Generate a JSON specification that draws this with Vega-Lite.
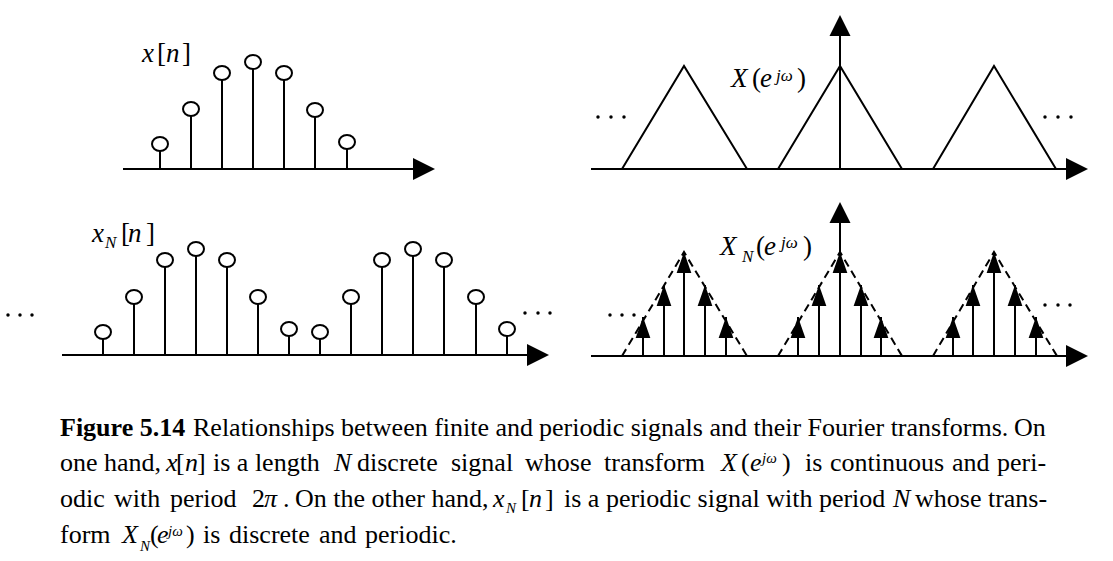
{
  "$schema": "https://vega.github.io/schema/vega-lite/v6.json",
  "width": 1113,
  "height": 561,
  "padding": 0,
  "autosize": {"type": "fit", "contains": "padding"},
  "background": "white",
  "config": {"view": {"stroke": null}},
  "datasets": {
    "axesH": [
      {"x": 123, "x2": 425, "y": 169},
      {"x": 591, "x2": 1075, "y": 169},
      {"x": 62, "x2": 537, "y": 355},
      {"x": 591, "x2": 1075, "y": 356}
    ],
    "axesV": [
      {"x": 840, "y": 169, "y2": 30},
      {"x": 840, "y": 356, "y2": 215}
    ],
    "arrowR": [
      {"x": 435, "y": 169},
      {"x": 1088, "y": 169},
      {"x": 549, "y": 355},
      {"x": 1088, "y": 356}
    ],
    "arrowU": [
      {"x": 840, "y": 15},
      {"x": 840, "y": 202}
    ],
    "stems": [
      {"x": 160, "y": 144, "y2": 169},
      {"x": 191, "y": 109, "y2": 169},
      {"x": 222, "y": 73, "y2": 169},
      {"x": 253, "y": 62, "y2": 169},
      {"x": 284, "y": 73, "y2": 169},
      {"x": 315, "y": 110, "y2": 169},
      {"x": 347, "y": 142, "y2": 169},
      {"x": 103, "y": 332, "y2": 355},
      {"x": 134, "y": 297, "y2": 355},
      {"x": 165, "y": 260, "y2": 355},
      {"x": 196, "y": 249, "y2": 355},
      {"x": 227, "y": 260, "y2": 355},
      {"x": 258, "y": 297, "y2": 355},
      {"x": 289, "y": 329, "y2": 355},
      {"x": 320, "y": 332, "y2": 355},
      {"x": 351, "y": 297, "y2": 355},
      {"x": 382, "y": 260, "y2": 355},
      {"x": 413, "y": 249, "y2": 355},
      {"x": 444, "y": 260, "y2": 355},
      {"x": 476, "y": 297, "y2": 355},
      {"x": 507, "y": 329, "y2": 355}
    ],
    "impulses": [
      {"x": 643, "y": 317, "y2": 356},
      {"x": 664, "y": 285, "y2": 356},
      {"x": 684, "y": 252, "y2": 356},
      {"x": 705, "y": 285, "y2": 356},
      {"x": 726, "y": 317, "y2": 356},
      {"x": 798, "y": 317, "y2": 356},
      {"x": 819, "y": 285, "y2": 356},
      {"x": 840, "y": 252, "y2": 356},
      {"x": 861, "y": 285, "y2": 356},
      {"x": 881, "y": 317, "y2": 356},
      {"x": 953, "y": 317, "y2": 356},
      {"x": 973, "y": 285, "y2": 356},
      {"x": 994, "y": 252, "y2": 356},
      {"x": 1015, "y": 285, "y2": 356},
      {"x": 1036, "y": 317, "y2": 356}
    ],
    "tri": [
      {"g": "a", "x": 622, "y": 169}, {"g": "a", "x": 684, "y": 66}, {"g": "a", "x": 747, "y": 169},
      {"g": "b", "x": 778, "y": 169}, {"g": "b", "x": 840, "y": 66}, {"g": "b", "x": 902, "y": 169},
      {"g": "c", "x": 933, "y": 169}, {"g": "c", "x": 994, "y": 66}, {"g": "c", "x": 1056, "y": 169}
    ],
    "dtri": [
      {"g": "a", "x": 622, "y": 356}, {"g": "a", "x": 684, "y": 252}, {"g": "a", "x": 747, "y": 356},
      {"g": "b", "x": 778, "y": 356}, {"g": "b", "x": 840, "y": 252}, {"g": "b", "x": 902, "y": 356},
      {"g": "c", "x": 933, "y": 356}, {"g": "c", "x": 994, "y": 252}, {"g": "c", "x": 1057, "y": 356}
    ],
    "dots": [
      {"x": 598, "y": 117}, {"x": 611, "y": 117}, {"x": 624, "y": 117},
      {"x": 1045, "y": 117}, {"x": 1058, "y": 117}, {"x": 1071, "y": 117},
      {"x": 8, "y": 315}, {"x": 20, "y": 315}, {"x": 32, "y": 315},
      {"x": 525, "y": 313}, {"x": 538, "y": 313}, {"x": 550, "y": 313},
      {"x": 610, "y": 315}, {"x": 622, "y": 315}, {"x": 634, "y": 315},
      {"x": 1045, "y": 305}, {"x": 1058, "y": 305}, {"x": 1070, "y": 305}
    ],
    "droman": [
      {"t": "[", "x": 157, "y": 62},
      {"t": "]", "x": 182, "y": 62},
      {"t": "(", "x": 752, "y": 87},
      {"t": ")", "x": 797, "y": 87},
      {"t": "[", "x": 121, "y": 242},
      {"t": "]", "x": 146, "y": 242},
      {"t": "(", "x": 756, "y": 255},
      {"t": ")", "x": 803, "y": 255}
    ],
    "ditalic": [
      {"t": "x", "x": 142, "y": 62},
      {"t": "n", "x": 166, "y": 62},
      {"t": "X", "x": 731, "y": 87},
      {"t": "e", "x": 760, "y": 87},
      {"t": "x", "x": 92, "y": 242},
      {"t": "n", "x": 128, "y": 242},
      {"t": "X", "x": 720, "y": 255},
      {"t": "e", "x": 764, "y": 255}
    ],
    "dsmall": [
      {"t": "jω", "x": 776, "y": 81},
      {"t": "N", "x": 105, "y": 248},
      {"t": "N", "x": 742, "y": 262},
      {"t": "jω", "x": 781, "y": 248}
    ],
    "roman": [
      {"t": "Relationships between finite and", "x": 193, "y": 436},
      {"t": "periodic signals and their Fourier transforms.", "x": 539, "y": 436},
      {"t": "On", "x": 1014, "y": 436},
      {"t": "one hand,", "x": 60, "y": 471},
      {"t": "[", "x": 176, "y": 471},
      {"t": "]", "x": 197, "y": 471},
      {"t": "is a length", "x": 213, "y": 471},
      {"t": "discrete", "x": 357, "y": 471},
      {"t": "signal", "x": 451, "y": 471},
      {"t": "whose", "x": 525, "y": 471},
      {"t": "transform", "x": 604, "y": 471},
      {"t": "(", "x": 741, "y": 471},
      {"t": ")", "x": 782, "y": 471},
      {"t": "is", "x": 805, "y": 471},
      {"t": "continuous", "x": 830, "y": 471},
      {"t": "and", "x": 952, "y": 471},
      {"t": "peri-", "x": 997, "y": 471},
      {"t": "odic", "x": 60, "y": 507},
      {"t": "with", "x": 114, "y": 507},
      {"t": "period", "x": 170, "y": 507},
      {"t": "2", "x": 252, "y": 507},
      {"t": ".", "x": 283, "y": 507},
      {"t": "On the other hand,", "x": 295, "y": 507},
      {"t": "[", "x": 521, "y": 507},
      {"t": "]", "x": 545, "y": 507},
      {"t": "is a periodic signal with period", "x": 564, "y": 507},
      {"t": "whose trans-", "x": 915, "y": 507},
      {"t": "form", "x": 60, "y": 543},
      {"t": "(", "x": 150, "y": 543},
      {"t": ")", "x": 186, "y": 543},
      {"t": "is", "x": 203, "y": 543},
      {"t": "discrete", "x": 229, "y": 543},
      {"t": "and", "x": 319, "y": 543},
      {"t": "periodic.", "x": 365, "y": 543}
    ],
    "italic": [
      {"t": "x", "x": 166, "y": 471},
      {"t": "n", "x": 185, "y": 471},
      {"t": "N", "x": 334, "y": 471},
      {"t": "X", "x": 721, "y": 471},
      {"t": "e", "x": 750, "y": 471},
      {"t": "π", "x": 264, "y": 507},
      {"t": "x", "x": 493, "y": 507},
      {"t": "n", "x": 529, "y": 507},
      {"t": "N", "x": 893, "y": 507},
      {"t": "X", "x": 122, "y": 543},
      {"t": "e", "x": 157, "y": 543}
    ],
    "small": [
      {"t": "jω", "x": 762, "y": 463},
      {"t": "N", "x": 506, "y": 513},
      {"t": "N", "x": 140, "y": 551},
      {"t": "jω", "x": 168, "y": 536}
    ],
    "bold": [
      {"t": "Figure 5.14", "x": 60, "y": 436}
    ]
  },
  "encoding": {
    "x": {"field": "x", "type": "quantitative", "axis": null, "scale": {"domain": [0, 1113], "nice": false, "zero": false}},
    "y": {"field": "y", "type": "quantitative", "axis": null, "scale": {"domain": [0, 561], "nice": false, "zero": false, "reverse": true}}
  },
  "layer": [
    {
      "data": {"name": "axesH"},
      "mark": {"type": "rule", "strokeWidth": 2, "color": "black"},
      "encoding": {"x2": {"field": "x2"}}
    },
    {
      "data": {"name": "axesV"},
      "mark": {"type": "rule", "strokeWidth": 2, "color": "black"},
      "encoding": {"y2": {"field": "y2"}}
    },
    {
      "data": {"name": "tri"},
      "mark": {"type": "line", "strokeWidth": 2, "color": "black"},
      "encoding": {"detail": {"field": "g"}}
    },
    {
      "data": {"name": "dtri"},
      "mark": {"type": "line", "strokeWidth": 2, "color": "black", "strokeDash": [8, 5]},
      "encoding": {"detail": {"field": "g"}}
    },
    {
      "data": {"name": "stems"},
      "mark": {"type": "rule", "strokeWidth": 2, "color": "black"},
      "encoding": {"y2": {"field": "y2"}}
    },
    {
      "data": {"name": "stems"},
      "mark": {"type": "point", "shape": "M-1,0A1,0.875,0,0,1,1,0A1,0.875,0,0,1,-1,0Z", "size": 256, "filled": false, "fill": "white", "stroke": "black", "strokeWidth": 2, "opacity": 1, "fillOpacity": 1}
    },
    {
      "data": {"name": "impulses"},
      "mark": {"type": "rule", "strokeWidth": 2, "color": "black"},
      "encoding": {"y2": {"field": "y2"}}
    },
    {
      "data": {"name": "impulses"},
      "mark": {"type": "point", "shape": "M0,0L0.7,2L-0.7,2Z", "size": 441, "filled": true, "color": "black", "opacity": 1}
    },
    {
      "data": {"name": "arrowR"},
      "mark": {"type": "point", "shape": "M0,0L-2,-1L-2,1Z", "size": 484, "filled": true, "color": "black", "opacity": 1}
    },
    {
      "data": {"name": "arrowU"},
      "mark": {"type": "point", "shape": "M0,0L1,2L-1,2Z", "size": 441, "filled": true, "color": "black", "opacity": 1}
    },
    {
      "data": {"name": "dots"},
      "mark": {"type": "point", "shape": "circle", "size": 12, "filled": true, "color": "black", "opacity": 1}
    },
    {
      "data": {"name": "droman"},
      "mark": {"type": "text", "font": "Liberation Serif", "fontSize": 27, "align": "left", "baseline": "alphabetic", "color": "black"},
      "encoding": {"text": {"field": "t"}}
    },
    {
      "data": {"name": "ditalic"},
      "mark": {"type": "text", "font": "Liberation Serif", "fontStyle": "italic", "fontSize": 27, "align": "left", "baseline": "alphabetic", "color": "black"},
      "encoding": {"text": {"field": "t"}}
    },
    {
      "data": {"name": "dsmall"},
      "mark": {"type": "text", "font": "Liberation Serif", "fontStyle": "italic", "fontSize": 17, "align": "left", "baseline": "alphabetic", "color": "black"},
      "encoding": {"text": {"field": "t"}}
    },
    {
      "data": {"name": "roman"},
      "mark": {"type": "text", "font": "Liberation Serif", "fontSize": 26, "align": "left", "baseline": "alphabetic", "color": "black"},
      "encoding": {"text": {"field": "t"}}
    },
    {
      "data": {"name": "italic"},
      "mark": {"type": "text", "font": "Liberation Serif", "fontStyle": "italic", "fontSize": 26, "align": "left", "baseline": "alphabetic", "color": "black"},
      "encoding": {"text": {"field": "t"}}
    },
    {
      "data": {"name": "small"},
      "mark": {"type": "text", "font": "Liberation Serif", "fontStyle": "italic", "fontSize": 15, "align": "left", "baseline": "alphabetic", "color": "black"},
      "encoding": {"text": {"field": "t"}}
    },
    {
      "data": {"name": "bold"},
      "mark": {"type": "text", "font": "Liberation Serif", "fontWeight": "bold", "fontSize": 26, "align": "left", "baseline": "alphabetic", "color": "black"},
      "encoding": {"text": {"field": "t"}}
    }
  ]
}
